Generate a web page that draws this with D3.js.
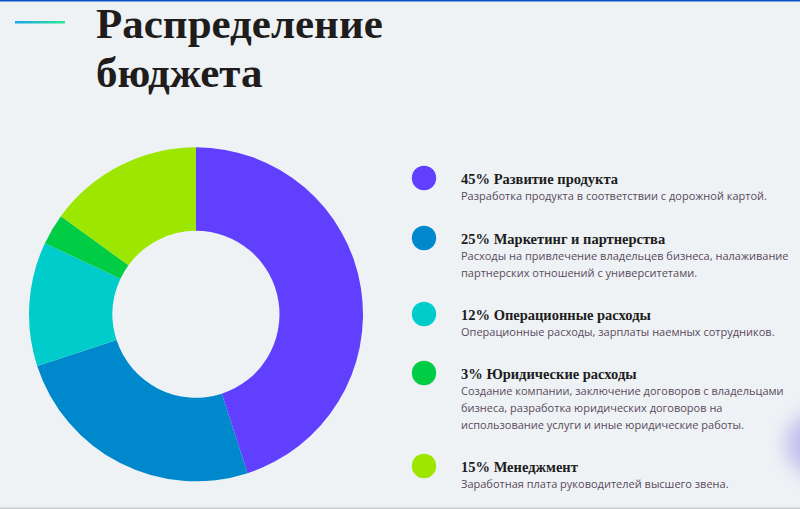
<!DOCTYPE html>
<html>
<head>
<meta charset="utf-8">
<script src="https://cdn.jsdelivr.net/npm/d3@7"></script>
<style>
  html, body { margin: 0; padding: 0; background: #eef2f5; }
  svg { display: block; }
</style>
</head>
<body>
<div id="root"></div>
<script>
// Budget shares
const categories = [
  "Развитие продукта",
  "Маркетинг и партнерства",
  "Операционные расходы",
  "Юридические расходы",
  "Менеджмент",
];
const shares = [45, 25, 12, 3, 15];
const colors = ["#603fff", "#0088cc", "#00cccc", "#00cc44", "#9de600"];
const descriptions = [
  ["Разработка продукта в соответствии с дорожной картой."],
  ["Расходы на привлечение владельцев бизнеса, налаживание", "партнерских отношений с университетами."],
  ["Операционные расходы, зарплаты наемных сотрудников."],
  [
    "Создание компании, заключение договоров с владельцами",
    "бизнеса, разработка юридических договоров на",
    "использование услуги и иные юридические работы.",
  ],
  ["Заработная плата руководителей высшего звена."],
];
const titleLines = ["Распределение", "бюджета"];

const data = categories.map((name, i) => ({
  name,
  value: shares[i],
  color: colors[i],
  desc: descriptions[i],
}));

function drawChart() {
  const width = 800;
  const height = 509;

  const svg = d3
    .select("#root")
    .append("svg")
    .attr("width", width)
    .attr("height", height);

  const defs = svg.append("defs");

  // Accent line gradient
  const grad = defs.append("linearGradient").attr("id", "accent");
  grad.append("stop").attr("offset", "0%").attr("stop-color", "#1ba6ea");
  grad.append("stop").attr("offset", "100%").attr("stop-color", "#2ee890");

  // Soft purple glow at the right edge
  const glow = defs.append("radialGradient").attr("id", "glow");
  glow.append("stop").attr("offset", "0%").attr("stop-color", "#9c8ee4").attr("stop-opacity", 0.95);
  glow.append("stop").attr("offset", "55%").attr("stop-color", "#beb6ec").attr("stop-opacity", 0.55);
  glow.append("stop").attr("offset", "100%").attr("stop-color", "#eef2f5").attr("stop-opacity", 0);

  svg.append("rect").attr("width", width).attr("height", height).attr("fill", "#eef2f5");
  svg.append("circle").attr("cx", 818).attr("cy", 444).attr("r", 52).attr("fill", "url(#glow)");

  // Page borders
  svg.append("rect").attr("x", 0).attr("y", 0).attr("width", width).attr("height", 1.5).attr("fill", "#0a55c8");
  svg.append("rect").attr("x", 0).attr("y", height - 1.5).attr("width", width).attr("height", 1.5).attr("fill", "#c9cccf");

  // Accent + title
  svg.append("rect").attr("x", 15).attr("y", 21).attr("width", 50).attr("height", 2.5).attr("fill", "url(#accent)");

  svg
    .append("text")
    .attr("x", 96)
    .style("font-family", "'Liberation Serif', 'Times New Roman', serif")
    .style("font-weight", "bold")
    .style("font-size", "43px")
    .style("fill", "#201c1c")
    .selectAll("tspan")
    .data(titleLines)
    .join("tspan")
    .attr("x", 96)
    .attr("y", (d, i) => 38 + i * 49)
    .text((d) => d);

  // Donut
  const cx = 196;
  const cy = 314.3;
  const outerR = 167;
  const innerR = 83.5;

  const pie = d3.pie().value((d) => d.value).sort(null);
  const arc = d3.arc().innerRadius(innerR).outerRadius(outerR);

  svg
    .append("g")
    .attr("transform", `translate(${cx},${cy})`)
    .selectAll("path")
    .data(pie(data))
    .join("path")
    .attr("d", arc)
    .attr("fill", (d) => d.data.color);

  // Legend
  const headingY = [184, 244, 320, 379, 472];
  const legend = svg.append("g");

  const items = legend
    .selectAll("g")
    .data(data)
    .join("g")
    .attr("transform", (d, i) => `translate(0,${headingY[i]})`);

  items
    .append("circle")
    .attr("cx", 424)
    .attr("cy", -6)
    .attr("r", 12.2)
    .attr("fill", (d) => d.color);

  items
    .append("text")
    .attr("x", 461)
    .attr("y", 0)
    .style("font-family", "'Liberation Serif', 'Times New Roman', serif")
    .style("font-weight", "bold")
    .style("font-size", "14.5px")
    .style("fill", "#201c1c")
    .text((d) => `${d.value}% ${d.name}`);

  items
    .append("text")
    .style("font-family", "'Open Sans', 'Noto Sans', sans-serif")
    .style("font-size", "11px")
    .style("fill", "#5a4a5c")
    .selectAll("tspan")
    .data((d) => d.desc)
    .join("tspan")
    .attr("x", 461)
    .attr("y", (d, i) => 16 + i * 16.8)
    .text((d) => d);
}

drawChart();
</script>
</body>
</html>
